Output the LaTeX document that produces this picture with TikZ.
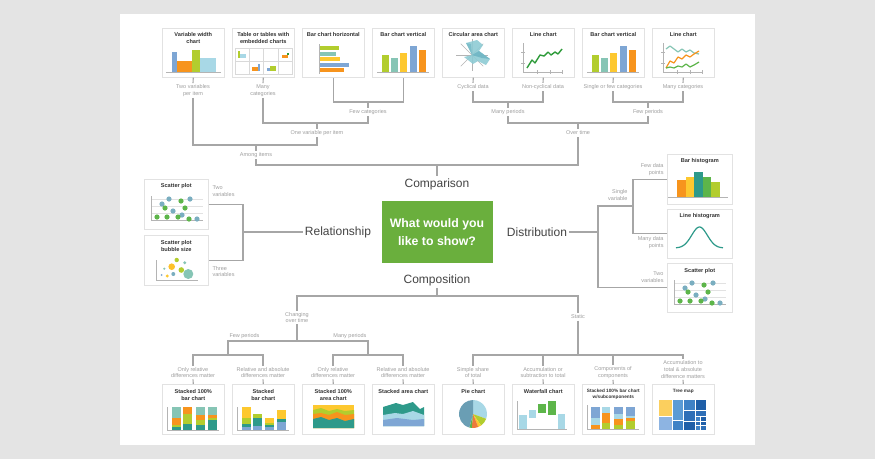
\documentclass[tikz,border=0pt]{standalone}
\usepackage{fontspec}
\setmainfont{Liberation Sans}
\usetikzlibrary{calc}

\definecolor{cPage}{HTML}{E4E4E4}
\definecolor{cBorder}{HTML}{E2E2E2}
\definecolor{cLine}{HTML}{A6A6A6}
\definecolor{cLabel}{HTML}{9E9E9E}
\definecolor{cHead}{HTML}{444444}
\definecolor{cTitle}{HTML}{333333}
\definecolor{cAxis}{HTML}{B4B4B4}
\definecolor{cGrid}{HTML}{E2E2E2}
\definecolor{cBox}{HTML}{6AAF3D}
\definecolor{cBlue}{HTML}{7EA6D4}
\definecolor{cOrange}{HTML}{F7941D}
\definecolor{cLime}{HTML}{B2CD2E}
\definecolor{cLtBlue}{HTML}{A8D8E6}
\definecolor{cTeal}{HTML}{86C5B5}
\definecolor{cYellow}{HTML}{FDC82F}
\definecolor{cGreen}{HTML}{5DB54A}
\definecolor{cDkGreen}{HTML}{2E9B3A}
\definecolor{cDkTeal}{HTML}{2E9A8A}
\definecolor{cDot}{HTML}{7AAEC0}
\definecolor{cPetal}{HTML}{8ECBD4}
\definecolor{cPetalDk}{HTML}{6BB3C2}
\definecolor{cPieBlue}{HTML}{6A9EB4}
\definecolor{cPieRed}{HTML}{EC7A3C}
\definecolor{cTmYellow}{HTML}{FBCF5E}
\definecolor{cTmA}{HTML}{8DB4E2}
\definecolor{cTmB}{HTML}{5B9BD5}
\definecolor{cTmC}{HTML}{3F82C6}
\definecolor{cTmD}{HTML}{2E6FB7}
\definecolor{cTmE}{HTML}{1F5FA8}

\tikzset{
  card/.style={draw=cBorder, fill=white, line width=0.6pt, inner sep=0pt,
               anchor=north west, minimum width=62pt, minimum height=49pt},
  sidecard/.style={card, minimum width=64pt, minimum height=50pt},
  cardtitle/.style={font=\bfseries\fontsize{5.6}{7}\selectfont, text=cTitle,
               align=center, anchor=north, inner sep=0pt},
  smalltitle/.style={cardtitle, font=\bfseries\fontsize{4.7}{6}\selectfont},
  note/.style={font=\fontsize{5.5}{6.8}\selectfont, text=cLabel, align=center, inner sep=1.3pt},
  head/.style={font=\fontsize{12}{14}\selectfont, text=cHead, inner sep=2pt},
  centerbox/.style={fill=cBox, text=white, font=\bfseries\fontsize{12.3}{17.5}\selectfont,
               align=center, minimum width=111pt, minimum height=62pt, inner sep=0pt},
  conn/.style={draw=cLine, line width=1.1pt},
  axisline/.style={draw=cAxis, line width=0.5pt},
  gridline/.style={draw=cGrid, line width=0.5pt},
}

% bar chart with five vertical bars
\newcommand{\vbarchart}{%
  \draw[axisline] (5,44) -- (57,44);
  \fill[cLime]   (10,27) rectangle (17,44);
  \fill[cTeal]   (19,30) rectangle (26,44);
  \fill[cYellow] (28,25) rectangle (35,44);
  \fill[cBlue]   (38,18) rectangle (45,44);
  \fill[cOrange] (47,22) rectangle (54,44);
}
% scatter plot with two groups of dots
\newcommand{\scatterchart}{%
  \foreach \yy in {20,27,34} \draw[gridline] (7,\yy) -- (59,\yy);
  \draw[axisline] (7,17) -- (7,41) -- (59,41);
  \foreach \p in {(25,20),(46,20),(18,25),(29,32),(38,36),(53,40)}
    \fill[cDot] \p circle[radius=2.6];
  \foreach \p in {(37,22),(21,29),(41,29),(13,38),(23,38),(34,38),(45,40)}
    \fill[cGreen] \p circle[radius=2.6];
}
% line chart axes with ticks
\newcommand{\lineaxes}{%
  \draw[axisline] (11,15) -- (11,44) -- (51,44);
  \draw[axisline] (9,24) -- (13,24) (9,35) -- (13,35)
                  (25,42) -- (25,46) (38,42) -- (38,46) (50,42) -- (50,46);
}

\begin{document}
\begin{tikzpicture}[x=1pt,y=-1pt]
\useasboundingbox (0,0) rectangle (875,459);
\fill[cPage] (0,0) rectangle (875,459);
\fill[white] (120,14) rectangle (755,445);

% ================= top row: comparison =================
\node[card] (T1) at (162,28) {};
\node[card] (T2) at (232,28) {};
\node[card] (T3) at (302,28) {};
\node[card] (T4) at (372,28) {};
\node[card] (T5) at (442,28) {};
\node[card] (T6) at (512,28) {};
\node[card] (T7) at (582,28) {};
\node[card] (T8) at (652,28) {};
\node[cardtitle] (T1t) at ([yshift=-4.5pt]T1.north) {Variable width\\chart};
\node[cardtitle] (T2t) at ([yshift=-4.5pt]T2.north) {Table or tables with\\embedded charts};
\node[cardtitle] (T3t) at ([yshift=-4.5pt]T3.north) {Bar chart horizontal};
\node[cardtitle] (T4t) at ([yshift=-4.5pt]T4.north) {Bar chart vertical};
\node[cardtitle] (T5t) at ([yshift=-4.5pt]T5.north) {Circular area chart};
\node[cardtitle] (T6t) at ([yshift=-4.5pt]T6.north) {Line chart};
\node[cardtitle] (T7t) at ([yshift=-4.5pt]T7.north) {Bar chart vertical};
\node[cardtitle] (T8t) at ([yshift=-4.5pt]T8.north) {Line chart};

% variable width chart
\begin{scope}[shift={(T1.north west)}]
  \draw[axisline] (4,44) -- (59,44);
  \fill[cBlue]   (10,24) rectangle (15,44);
  \fill[cOrange] (15,33) rectangle (30,44);
  \fill[cLime]   (30,22) rectangle (38,44);
  \fill[cLtBlue] (38,30) rectangle (54,44);
\end{scope}
% table with embedded charts
\begin{scope}[shift={(T2.north west)}]
  \draw[draw=gray!30, line width=0.5pt] (3,20) rectangle (60,46) (3,33) -- (60,33)
       (17.25,20) -- (17.25,46) (31.5,20) -- (31.5,46) (45.75,20) -- (45.75,46);
  \fill[cLime] (6,23) rectangle (8,30);
  \fill[cLtBlue] (8,26) rectangle (14,30);
  \fill[cOrange] (50,27) rectangle (56,30);
  \fill[cDkGreen] (55,25) rectangle (56.5,27);
  \fill[cOrange] (20,39) rectangle (26,43);
  \fill[cBlue] (26,36) rectangle (27.5,43);
  \fill[cBlue] (35,40) rectangle (38,43);
  \fill[cLime] (38,38) rectangle (44,43);
\end{scope}
% horizontal bar chart
\begin{scope}[shift={(T3.north west)}]
  \draw[axisline] (17,16) -- (17,46);
  \fill[cLime]   (17.5,18) rectangle (37,22);
  \fill[cTeal]   (17.5,23.5) rectangle (34,27.5);
  \fill[cYellow] (17.5,29) rectangle (38,33);
  \fill[cBlue]   (17.5,34.5) rectangle (47,38.5);
  \fill[cOrange] (17.5,40) rectangle (42,44);
\end{scope}
\begin{scope}[shift={(T4.north west)}] \vbarchart \end{scope}
% circular area chart
\begin{scope}[shift={(T5.north west)}]
  \foreach \a in {0,45,...,315} \draw[axisline] (30,27) -- ++(\a:16);
  \fill[cPetal, opacity=0.9] (30,27) -- (24,15) -- (35,12) -- (41,17) -- (37,23)
       -- (48,31) -- (44,37) -- (36,33) -- (31,36) -- (26,32) -- (22,29) -- cycle;
  \fill[cPetalDk, opacity=0.8] (30,27) -- (37,23) -- (48,31) -- (40,30) -- cycle;
  \fill[cPetalDk, opacity=0.6] (30,27) -- (24,15) -- (29,16) -- cycle;
\end{scope}
% line chart
\begin{scope}[shift={(T6.north west)}]
  \lineaxes
  \draw[cDkGreen, line width=1.4pt, line join=round]
     (15,40) -- (20,32) -- (23,35) -- (28,27) -- (32,28) -- (36,24) -- (39,27)
     -- (43,24) -- (46,26) -- (50,21);
\end{scope}
\begin{scope}[shift={(T7.north west)}] \vbarchart \end{scope}
% multi-line chart
\begin{scope}[shift={(T8.north west)}]
  \lineaxes
  \draw[cTeal, line width=1.2pt, line join=round]
     (14,21) -- (18,18) -- (22,21) -- (26,24) -- (30,21) -- (34,24) -- (38,22) -- (42,25) -- (47,26);
  \draw[cOrange, line width=1.2pt, line join=round]
     (14,40) -- (18,33) -- (22,35) -- (26,29) -- (30,31) -- (34,27) -- (38,29) -- (42,26) -- (47,23);
  \draw[cGreen, line width=1.2pt, line join=round]
     (14,40) -- (18,39) -- (22,40) -- (26,38) -- (30,39) -- (34,36) -- (38,39) -- (42,37) -- (47,34);
\end{scope}

% labels under the top row
\node[note] (N1) at (193,90.5) {Two variables\\per item};
\node[note] (N2) at (263,90.5) {Many\\categories};
\node[note] (N5) at (473,87) {Cyclical data};
\node[note] (N6) at (543,87) {Non-cyclical data};
\node[note] (N7) at (613,87) {Single or few categories};
\node[note] (N8) at (683,87) {Many categories};
\node[note] (Nfc) at (368,112) {Few categories};
\node[note] (Nov) at (317,133) {One variable per item};
\node[note] (Nai) at (256,155) {Among items};
\node[note] (Nmp) at (508,112) {Many periods};
\node[note] (Nfp) at (648,112) {Few periods};
\node[note] (Not) at (578,133) {Over time};

\coordinate (bFC) at (368,102);
\coordinate (bOV) at (317,123);
\coordinate (bAI) at (256,145);
\coordinate (bMP) at (508,102);
\coordinate (bFP) at (648,102);
\coordinate (bOT) at (578,123);
\coordinate (bC)  at (437,165);

\foreach \c/\n in {T1/N1,T2/N2,T5/N5,T6/N6,T7/N7,T8/N8}
  \draw[conn] (\c.south) -- (\n.north);
\draw[conn] (T3.south) |- (bFC) -| (T4.south);
\draw[conn] (bFC) -- (Nfc.north);
\draw[conn] (N2.south) |- (bOV) -| (Nfc.south);
\draw[conn] (bOV) -- (Nov.north);
\draw[conn] (N1.south) |- (bAI) -| (Nov.south);
\draw[conn] (bAI) -- (Nai.north);
\draw[conn] (N5.south) |- (bMP) -| (N6.south);
\draw[conn] (bMP) -- (Nmp.north);
\draw[conn] (N7.south) |- (bFP) -| (N8.south);
\draw[conn] (bFP) -- (Nfp.north);
\draw[conn] (Nmp.south) |- (bOT) -| (Nfp.south);
\draw[conn] (bOT) -- (Not.north);

% ================= centre =================
\node[centerbox] (Q) at (437,232) {What would you\\like to show?};
\node[head] (Hcmp) at (437,184) {Comparison};
\node[head] (Hrel) at (338,232) {Relationship};
\node[head] (Hdst) at (537,232) {Distribution};
\node[head] (Hcps) at (437,280) {Composition};

\draw[conn] (Nai.south) |- (bC) -| (Not.south);
\draw[conn] (bC) -- (Hcmp.north);

% ================= left: relationship =================
\node[sidecard] (L1) at (144,179) {};
\node[sidecard] (L2) at (144,235) {};
\node[cardtitle] (L1t) at ([yshift=-4.5pt]L1.north) {Scatter plot};
\node[cardtitle] (L2t) at ([yshift=-5pt]L2.north) {Scatter plot\\bubble size};
\begin{scope}[shift={(L1.north west)}] \scatterchart \end{scope}
\begin{scope}[shift={(L2.north west)}]
  \draw[axisline] (12,25) -- (12,45) -- (54,45);
  \fill[cTeal]   (44.3,39) circle[radius=5];
  \fill[cLime]   (32.7,25) circle[radius=2.2];
  \fill[cTeal]   (40.7,27.7) circle[radius=1.6];
  \fill[cYellow!90!orange] (27.7,31.7) circle[radius=3.3];
  \fill[cTeal]   (20.3,33.7) circle[radius=1.2];
  \fill[cLime]   (37.3,35) circle[radius=2.8];
  \fill[cDot]    (29.3,39) circle[radius=2];
  \fill[cYellow] (23.3,41) circle[radius=1.6];
  \fill[cBlue]   (17.7,40) circle[radius=1];
\end{scope}
\node[note, anchor=west, align=left] (Nrl1) at (211,191.5) {Two\\variables};
\node[note, anchor=west, align=left] (Nrl2) at (211,271.5) {Three\\variables};
\coordinate (bR) at (243,232);
\draw[conn] (Hrel.west) -- (bR);
\draw[conn] (L1.east) -- (L1.east -| bR) -- (L2.east -| bR) -- (L2.east);

% ================= right: distribution =================
\node[sidecard, minimum width=65pt] (R1) at (667,154) {};
\node[sidecard, minimum width=65pt, minimum height=49pt] (R2) at (667,209) {};
\node[sidecard, minimum width=65pt, minimum height=49pt] (R3) at (667,263) {};
\node[cardtitle] (R1t) at ([yshift=-4.5pt]R1.north) {Bar histogram};
\node[cardtitle] (R2t) at ([yshift=-4.5pt]R2.north) {Line histogram};
\node[cardtitle] (R3t) at ([yshift=-5.5pt]R3.north) {Scatter plot};
\begin{scope}[shift={(R1.north west)}]
  \draw[axisline] (1,43) -- (61,43);
  \fill[cOrange] (10,26) rectangle (18.5,43);
  \fill[cYellow] (18.5,23) rectangle (27,43);
  \fill[cDkTeal] (27,18) rectangle (35.5,43);
  \fill[cGreen]  (35.5,23) rectangle (44,43);
  \fill[cLime]   (44,28) rectangle (52.5,43);
\end{scope}
\begin{scope}[shift={(R2.north west)}]
  \draw[cDkTeal, line width=1.2pt] plot[domain=-1:1, samples=50, smooth]
     ({32.5+23.5*\x}, {39-21*exp(-(3*\x)^2/2)});
\end{scope}
\begin{scope}[shift={(R3.north west)}] \scatterchart \end{scope}
\node[note, anchor=east, align=right] (Nd1) at (665,169.5) {Few data\\points};
\node[note, anchor=east, align=right] (Nd2) at (629,195) {Single\\variable};
\node[note, anchor=east, align=right] (Nd3) at (665,242.5) {Many data\\points};
\node[note, anchor=east, align=right] (Nd4) at (665,277.5) {Two\\variables};
\coordinate (bD) at (598,232);
\coordinate (bS) at (633,206);
\draw[conn] (Hdst.east) -- (bD);
\draw[conn] (bS) -- (bS -| bD) -- (R3.west -| bD) -- (R3.west);
\draw[conn] (R1.west) -- (R1.west -| bS) -- (R2.west -| bS) -- (R2.west);

% ================= bottom: composition =================
\node[note] (Nchg) at (297,317.5) {Changing\\over time};
\node[note] (Nst)  at (578,317) {Static};
\coordinate (bCo) at (437,296);
\coordinate (bCh) at (297,341);
\coordinate (bF)  at (228,355);
\coordinate (bM)  at (368,355);
\coordinate (bSt) at (578,355);
\node[note, anchor=south west] (Nfew)  at ([yshift=1pt]228,341) {Few periods};
\node[note, anchor=south east] (Nmany) at ([yshift=1pt]368,341) {Many periods};

\node[note] (Nb1) at (193,372.5) {Only relative\\differences matter};
\node[note] (Nb2) at (263,372.5) {Relative and absolute\\differences matter};
\node[note] (Nb3) at (333,372.5) {Only relative\\differences matter};
\node[note] (Nb4) at (403,372.5) {Relative and absolute\\differences matter};
\node[note] (Nb5) at (473,372.5) {Simple share\\of total};
\node[note] (Nb6) at (543,372.5) {Accumulation or\\subtraction to total};
\node[note] (Nb7) at (613,372.5) {Components of\\components};
\node[note] (Nb8) at (683,369.5) {Accumulation to\\total \& absolute\\difference matters};

\draw[conn] (Hcps.south) -- (bCo);
\draw[conn] (Nchg.north) |- (bCo) -| (Nst.north);
\draw[conn] (Nchg.south) -- (bCh);
\draw[conn] (bF) |- (bCh) -| (bM);
\draw[conn] (Nb1.north) |- (bF) -| (Nb2.north);
\draw[conn] (Nb3.north) |- (bM) -| (Nb4.north);
\draw[conn] (Nst.south) -- (bSt);
\draw[conn] (Nb5.north) |- (bSt) -| (Nb8.north);
\draw[conn] (Nb6.north) -- (Nb6.north |- bSt);
\draw[conn] (Nb7.north) -- (Nb7.north |- bSt);

\node[card, minimum height=50pt] (B1) at (162,384) {};
\node[card, minimum height=50pt] (B2) at (232,384) {};
\node[card, minimum height=50pt] (B3) at (302,384) {};
\node[card, minimum height=50pt] (B4) at (372,384) {};
\node[card, minimum height=50pt] (B5) at (442,384) {};
\node[card, minimum height=50pt] (B6) at (512,384) {};
\node[card, minimum height=50pt] (B7) at (582,384) {};
\node[card, minimum height=50pt] (B8) at (652,384) {};
\foreach \i in {1,...,8} \draw[conn] (Nb\i.south) -- (B\i.north);

\node[cardtitle] (B1t) at ([yshift=-5pt]B1.north) {Stacked 100\%\\bar chart};
\node[cardtitle] (B2t) at ([yshift=-5pt]B2.north) {Stacked\\bar chart};
\node[cardtitle] (B3t) at ([yshift=-5pt]B3.north) {Stacked 100\%\\area chart};
\node[cardtitle] (B4t) at ([yshift=-5pt]B4.north) {Stacked area chart};
\node[cardtitle] (B5t) at ([yshift=-5pt]B5.north) {Pie chart};
\node[cardtitle] (B6t) at ([yshift=-5pt]B6.north) {Waterfall chart};
\node[smalltitle] (B7t) at ([yshift=-5pt]B7.north) {Stacked 100\% bar chart\\w/subcomponents};
\node[smalltitle] (B8t) at ([yshift=-5pt]B8.north) {Tree map};

% stacked 100% bar chart
\begin{scope}[shift={(B1.north west)}]
  \draw[axisline] (5,23) -- (5,46) -- (57,46);
  \fill[cTeal] (10,23) rectangle (19,34);   \fill[cOrange] (10,34) rectangle (19,41);
  \fill[cLime] (10,41) rectangle (19,43);   \fill[cDkTeal] (10,43) rectangle (19,46);
  \fill[cOrange] (21,23) rectangle (30,30); \fill[cLime] (21,30) rectangle (30,40);
  \fill[cDkTeal] (21,40) rectangle (30,46);
  \fill[cTeal] (34,23) rectangle (43,31);   \fill[cOrange] (34,31) rectangle (43,36);
  \fill[cLime] (34,36) rectangle (43,41);   \fill[cDkTeal] (34,41) rectangle (43,46);
  \fill[cTeal] (46,23) rectangle (55,31);   \fill[cOrange] (46,31) rectangle (55,34);
  \fill[cLime] (46,34) rectangle (55,36);   \fill[cDkTeal] (46,36) rectangle (55,46);
\end{scope}
% stacked bar chart
\begin{scope}[shift={(B2.north west)}]
  \draw[axisline] (5,23) -- (5,46) -- (57,46);
  \fill[cYellow] (10,23) rectangle (19,34); \fill[cLime] (10,34) rectangle (19,40);
  \fill[cDkTeal] (10,40) rectangle (19,43); \fill[cBlue] (10,43) rectangle (19,46);
  \fill[cLime] (21,30) rectangle (30,34);   \fill[cDkTeal] (21,34) rectangle (30,42);
  \fill[cBlue] (21,42) rectangle (30,46);
  \fill[cYellow] (33,34) rectangle (42,39); \fill[cLime] (33,39) rectangle (42,41);
  \fill[cDkTeal] (33,41) rectangle (42,43); \fill[cBlue] (33,43) rectangle (42,46);
  \fill[cYellow] (45,26) rectangle (54,35); \fill[cDkTeal] (45,35) rectangle (54,38);
  \fill[cBlue] (45,38) rectangle (54,46);
\end{scope}
% stacked 100% area chart
\begin{scope}[shift={(B3.north west)}]
  \fill[cYellow] (11,21) rectangle (52,44);
  \fill[cLime] (11,26) -- (19,24) -- (27,27) -- (35,25) -- (43,27) -- (52,26) -- (52,44) -- (11,44) -- cycle;
  \fill[cOrange] (11,30) -- (19,29) -- (27,31) -- (35,28) -- (43,31) -- (52,30) -- (52,44) -- (11,44) -- cycle;
  \fill[cDkTeal] (11,35) -- (19,33) -- (27,36) -- (35,34) -- (43,37) -- (52,35) -- (52,44) -- (11,44) -- cycle;
\end{scope}
% stacked area chart
\begin{scope}[shift={(B4.north west)}]
  \fill[cDkTeal] (11,23) -- (24,19) -- (31,21) -- (41,18) -- (48,25) -- (52,23) -- (52,42) -- (11,42) -- cycle;
  \fill[cLtBlue] (11,31) -- (23,29) -- (31,30) -- (41,27) -- (52,31) -- (52,42) -- (11,42) -- cycle;
  \fill[cBlue] (11,36) -- (25,34) -- (41,36) -- (52,35) -- (52,42) -- (11,42) -- cycle;
\end{scope}
% pie chart
\begin{scope}[shift={(B5.north west)}]
  \fill[cLtBlue]  (31,30) -- ++(-90:14) arc[start angle=-90, end angle=20, radius=14] -- cycle;
  \fill[cLime]    (31,30) -- ++(20:14) arc[start angle=20, end angle=55, radius=14] -- cycle;
  \fill[cYellow]  (31,30) -- ++(55:14) arc[start angle=55, end angle=68, radius=14] -- cycle;
  \fill[cPieRed]  (31,30) -- ++(68:14) arc[start angle=68, end angle=95, radius=14] -- cycle;
  \fill[cGreen]   (31,30) -- ++(95:14) arc[start angle=95, end angle=105, radius=14] -- cycle;
  \fill[cPieBlue] (31,30) -- ++(105:14) arc[start angle=105, end angle=270, radius=14] -- cycle;
\end{scope}
% waterfall chart
\begin{scope}[shift={(B6.north west)}]
  \draw[axisline] (5,17) -- (5,45) -- (55,45);
  \fill[cLtBlue] (7,31) rectangle (15,45);
  \fill[cLtBlue] (17,26) rectangle (24,34);
  \fill[cGreen]  (26,20) rectangle (34,29);
  \fill[cGreen]  (36,17) rectangle (44,31);
  \fill[cLtBlue] (46,30) rectangle (53,45);
\end{scope}
% stacked 100% bar chart with subcomponents
\begin{scope}[shift={(B7.north west)}]
  \draw[axisline] (5,21) -- (5,45) -- (57,45);
  \fill[cBlue] (9,23) rectangle (18,34);     \fill[cLtBlue] (9,34) rectangle (18,41);
  \fill[cOrange] (9,41) rectangle (18,45);
  \fill[cLtBlue] (20,23) rectangle (28,29);  \fill[cOrange] (20,29) rectangle (28,39);
  \fill[cLime] (20,39) rectangle (28,45);
  \fill[cBlue] (32,23) rectangle (41,30);    \fill[cLtBlue] (32,30) rectangle (41,35);
  \fill[cOrange] (32,35) rectangle (41,41);  \fill[cLime] (32,41) rectangle (41,45);
  \fill[cBlue] (44,23) rectangle (53,32);    \fill[cLtBlue] (44,32) rectangle (53,33.5);
  \fill[cOrange] (44,33.5) rectangle (53,37);\fill[cLime] (44,37) rectangle (53,45);
\end{scope}
% tree map
\begin{scope}[shift={(B8.north west)}, every path/.style={draw=white, line width=0.7pt}]
  \filldraw[fill=cTmYellow] (6,15) rectangle (20,32);
  \filldraw[fill=cTmA] (6,32) rectangle (20,46);
  \filldraw[fill=cTmB] (20,15) rectangle (31,36);
  \filldraw[fill=cTmC] (20,36) rectangle (31,46);
  \filldraw[fill=cTmC] (31,15) rectangle (43,26);
  \filldraw[fill=cTmD] (31,26) rectangle (43,37);
  \filldraw[fill=cTmE] (31,37) rectangle (43,46);
  \filldraw[fill=cTmE] (43,15) rectangle (54,26);
  \filldraw[fill=cTmD] (43,26) rectangle (54,32);
  \filldraw[fill=cTmC] (43,32) rectangle (48,37);
  \filldraw[fill=cTmE] (48,32) rectangle (54,37);
  \filldraw[fill=cTmD] (43,37) rectangle (48,41.5);
  \filldraw[fill=cTmE] (48,37) rectangle (54,41.5);
  \filldraw[fill=cTmC] (43,41.5) rectangle (48,46);
  \filldraw[fill=cTmD] (48,41.5) rectangle (54,46);
\end{scope}
\end{tikzpicture}
\end{document}
